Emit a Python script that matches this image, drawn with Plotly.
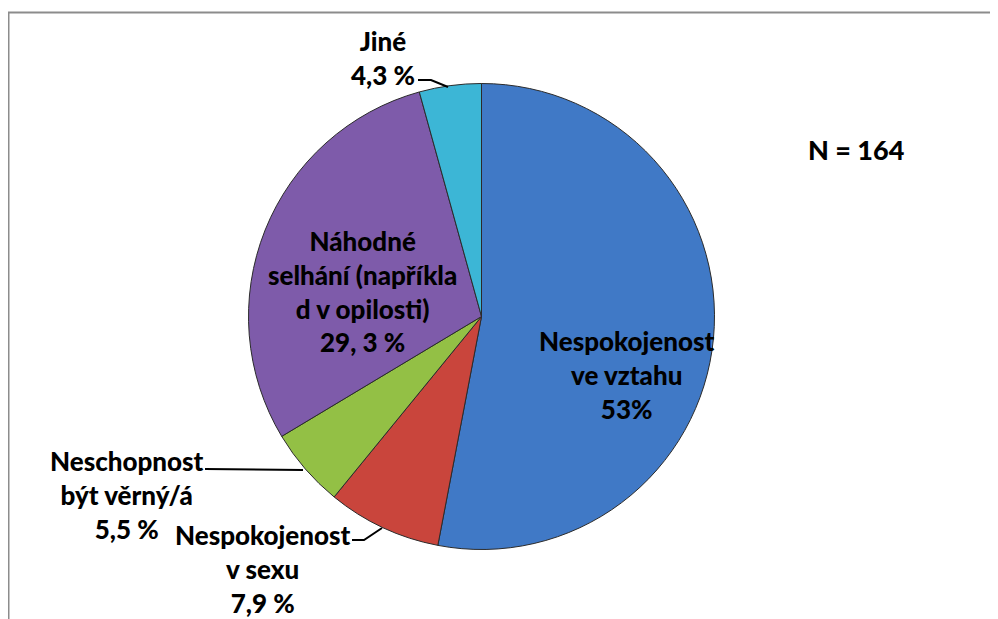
"""Koláčový graf: důvody nevěry (N = 164)."""
import plotly.graph_objects as go

# Data
labels = [
    "Nespokojenost ve vztahu",
    "Nespokojenost v sexu",
    "Neschopnost být věrný/á",
    "Náhodné selhání (například v opilosti)",
    "Jiné",
]
values = [53.0, 7.9, 5.5, 29.3, 4.3]
label_texts = [
    "Nespokojenost<br>ve vztahu<br>53%",
    "Nespokojenost<br>v sexu<br>7,9 %",
    "Neschopnost<br>být věrný/á<br>5,5 %",
    "Náhodné<br>selhání (napříkla<br>d v opilosti)<br>29, 3 %",
    "Jiné<br>4,3 %",
]
colors = ["#4079C6", "#C9453C", "#93C045", "#7E5BAA", "#3CB6D6"]

# stránka má okraj 8 px -> souřadnice v pixelech okna
OFF = 8
PW, PH = 998, 619
W, H = PW - OFF, PH - OFF
FONT = "Lato"

# pozice popisků (px okna) a vodicí čáry
label_pos = [(627, 375), (263, 569), (127, 495), (362, 291), (383, 58)]
leaders = [
    None,
    "M 352 540 L 364 540 L 382 528",
    "M 205 469 L 303 470",
    None,
    "M 418 80 L 431 80 L 448 87",
]

cx, cy, r = 481.5, 316.5, 233

fig = go.Figure()
fig.add_trace(go.Pie(
    labels=labels,
    values=values,
    sort=False,
    direction="clockwise",
    rotation=0,
    marker=dict(colors=colors, line=dict(color="#2b2b2b", width=1)),
    textinfo="none",
    hoverinfo="label+percent",
    showlegend=False,
    domain=dict(
        x=[(cx - r - OFF) / W, (cx + r - OFF) / W],
        y=[1 - (cy + r - OFF) / H, 1 - (cy - r - OFF) / H],
    ),
))

for txt, (x, y) in zip(label_texts, label_pos):
    fig.add_annotation(
        x=x, y=y, xref="x", yref="y", text=txt, showarrow=False,
        font=dict(family=FONT, size=26, color="black", weight=900), align="center",
    )

fig.add_annotation(
    x=856, y=149, xref="x", yref="y", text="N = 164", showarrow=False,
    font=dict(family=FONT, size=27, color="black", weight=900),
)

shapes = []
for p in leaders:
    if p:
        shapes.append(dict(type="path", path=p, xref="x", yref="y",
                           line=dict(color="black", width=2)))
# rámeček grafu (horní a levá hrana)
shapes.append(dict(type="path", path="M 998 12.5 L 8.5 12.5 L 8.5 619", xref="x", yref="y",
                   line=dict(color="#8c8c8c", width=2)))

fig.update_layout(
    width=W, height=H,
    margin=dict(l=0, r=0, t=0, b=0),
    paper_bgcolor="white", plot_bgcolor="rgba(0,0,0,0)",
    xaxis=dict(range=[OFF, PW], visible=False, fixedrange=True),
    yaxis=dict(range=[PH, OFF], visible=False, fixedrange=True),
    shapes=shapes,
)

fig.write_html("out.html")
